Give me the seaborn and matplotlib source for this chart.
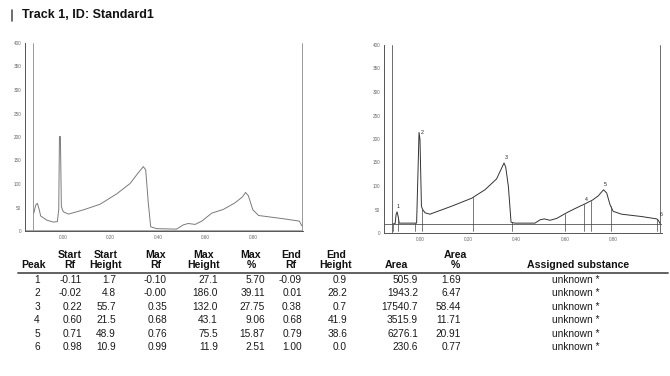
import numpy as np
import pandas as pd
import matplotlib.pyplot as plt
import seaborn as sns

# raw scan (left panel)
raw_rf = [-0.123, -0.115, -0.108, -0.100, -0.094, -0.068, -0.041, -0.024, -0.018, -0.015,
          -0.011, -0.007, 0.001, 0.023, 0.086, 0.156, 0.226, 0.282, 0.317, 0.338,
          0.348, 0.359, 0.369, 0.394, 0.478, 0.506, 0.527, 0.556, 0.584, 0.626,
          0.675, 0.724, 0.756, 0.768, 0.780, 0.799, 0.823, 0.928, 0.995, 1.005]
raw_au = [38, 55, 59, 45, 32, 23, 19, 20, 45, 201,
          201, 52, 41, 36, 45, 57, 79, 101, 124, 137,
          130, 59, 9, 5, 4, 13, 16, 14, 21, 38,
          46, 60, 73, 82, 75, 45, 33, 26, 21, 11]

# integrated scan (right panel)
int_rf = [-0.115, -0.103, -0.099, -0.095, -0.090, -0.086, -0.014, -0.008, -0.004, 0.000,
          0.006, 0.011, 0.021, 0.041, 0.131, 0.214, 0.269, 0.317, 0.338, 0.348,
          0.355, 0.366, 0.377, 0.393, 0.476, 0.497, 0.515, 0.538, 0.566, 0.607,
          0.642, 0.683, 0.714, 0.738, 0.760, 0.773, 0.787, 0.800, 0.835, 0.918,
          0.980, 0.987, 0.994]
int_au = [19, 20, 39, 45, 34, 21, 21, 135, 214, 199,
          57, 50, 43, 40, 57, 74, 92, 115, 138, 149,
          140, 99, 23, 21, 21, 28, 30, 27, 31, 43,
          52, 62, 70, 79, 92, 85, 60, 46, 40, 35,
          30, 27, 20]
baseline = 19
raw_baseline = 3
raw_track = [-0.125, 1.005]
int_track = [-0.115, 0.994]

# peak table
peak = [1, 2, 3, 4, 5, 6]
start_rf = ["-0.11", "-0.02", "0.22", "0.60", "0.71", "0.98"]
start_h = ["1.7", "4.8", "55.7", "21.5", "48.9", "10.9"]
max_rf = ["-0.10", "-0.00", "0.35", "0.68", "0.76", "0.99"]
max_h = ["27.1", "186.0", "132.0", "43.1", "75.5", "11.9"]
max_pct = ["5.70", "39.11", "27.75", "9.06", "15.87", "2.51"]
end_rf = ["-0.09", "0.01", "0.38", "0.68", "0.79", "1.00"]
end_h = ["0.9", "28.2", "0.7", "41.9", "38.6", "0.0"]
area = ["505.9", "1943.2", "17540.7", "3515.9", "6276.1", "230.6"]
area_pct = ["1.69", "6.47", "58.44", "11.71", "20.91", "0.77"]
substance = ["unknown *"] * 6

sns.set_style("white")
plt.rcParams['font.family'] = ['Liberation Sans', 'DejaVu Sans']

W, H = 670, 376
fig = plt.figure(figsize=(6.7, 3.76), dpi=100)


def px_axes(x0, y_top, x1, y_bot):
    return fig.add_axes([x0 / W, 1 - y_bot / H, (x1 - x0) / W, (y_bot - y_top) / H])


def style_axes(ax, xlim):
    ax.set_xlim(*xlim)
    ax.set_ylim(0, 400)
    ax.set_yticks(np.arange(0, 401, 50))
    ax.set_xticks([0, 0.2, 0.4, 0.6, 0.8])
    ax.set_xticklabels(["0.00", "0.20", "0.40", "0.60", "0.80"])
    ax.tick_params(labelsize=3.3, length=1.8, width=0.5, pad=1, colors="#666666")
    for s in ["top", "right"]:
        ax.spines[s].set_visible(False)
    for s in ["left", "bottom"]:
        ax.spines[s].set_linewidth(0.7)
        ax.spines[s].set_color("#555555")
    ax.set_xlabel("")
    ax.set_ylabel("")
    ax.patch.set_alpha(0)


# left panel
ax1 = px_axes(25, 43, 303, 231)
raw = pd.DataFrame({"Rf": raw_rf, "AU": raw_au})
sns.lineplot(data=raw, x="Rf", y="AU", ax=ax1, color="#7a7a7a", linewidth=0.7, estimator=None)
for t in raw_track:
    ax1.axvline(t, color="#888888", linewidth=0.6)
ax1.axhline(raw_baseline, color="#999999", linewidth=0.6)
style_axes(ax1, (-0.16, 1.01))

# right panel
ax2 = px_axes(384, 45, 662, 233)
integ = pd.DataFrame({"Rf": int_rf, "AU": int_au})
sns.lineplot(data=integ, x="Rf", y="AU", ax=ax2, color="#333333", linewidth=0.7, estimator=None)
for t in int_track:
    ax2.axvline(t, color="#555555", linewidth=0.6)
ax2.axhline(baseline, color="#555555", linewidth=0.6)
for s, e in zip(start_rf, end_rf):
    for r in (float(s), float(e)):
        top = np.interp(r, int_rf, int_au)
        ax2.plot([r, r], [5, top], color="#444444", linewidth=0.5)
for p, m, h in zip(peak, max_rf, max_h):
    ax2.text(float(m) + 0.008, float(h) + baseline + 4, str(p), fontsize=3.8,
             color="#222222", ha="center", va="bottom")
style_axes(ax2, (-0.149, 1.002))

# title
fig.text(22 / W, 1 - 15 / H, "Track 1, ID: Standard1", fontsize=9, fontweight="bold",
         va="center", ha="left", color="#111111")
fig.add_artist(plt.Line2D([12 / W, 12 / W], [1 - 10 / H, 1 - 21 / H], color="#555555", linewidth=1.2))

# table: (header 1, header 2, header centre, values, value x, value alignment)
cols = [
    ("", "Peak", 33, [str(p) for p in peak], 37, "center"),
    ("Start", "Rf", 70, start_rf, 82, "right"),
    ("Start", "Height", 106, start_h, 116, "right"),
    ("Max", "Rf", 156, max_rf, 167, "right"),
    ("Max", "Height", 204, max_h, 218, "right"),
    ("Max", "%", 251, max_pct, 265, "right"),
    ("End", "Rf", 291, end_rf, 302, "right"),
    ("End", "Height", 336, end_h, 347, "right"),
    ("", "Area", 396, area, 418, "right"),
    ("Area", "%", 455, area_pct, 461, "right"),
    ("", "Assigned substance", 578, substance, 576, "center"),
]
row_y = [280, 293.4, 306.8, 320.2, 333.6, 347]
for h1, h2, hx, vals, vx, va_ in cols:
    if h1:
        fig.text(hx / W, 1 - 255 / H, h1, fontsize=7.6, fontweight="bold", ha="center", va="center", color="#111111")
    fig.text(hx / W, 1 - 265.5 / H, h2, fontsize=7.6, fontweight="bold", ha="center", va="center", color="#111111")
    for v, y in zip(vals, row_y):
        fig.text(vx / W, 1 - y / H, v, fontsize=7.3, ha=va_, va="center", color="#1a1a1a")
fig.add_artist(plt.Line2D([18 / W, 668 / W], [1 - 272.5 / H, 1 - 272.5 / H], color="#555555", linewidth=1.3))

fig.savefig("out.png", dpi=100)
